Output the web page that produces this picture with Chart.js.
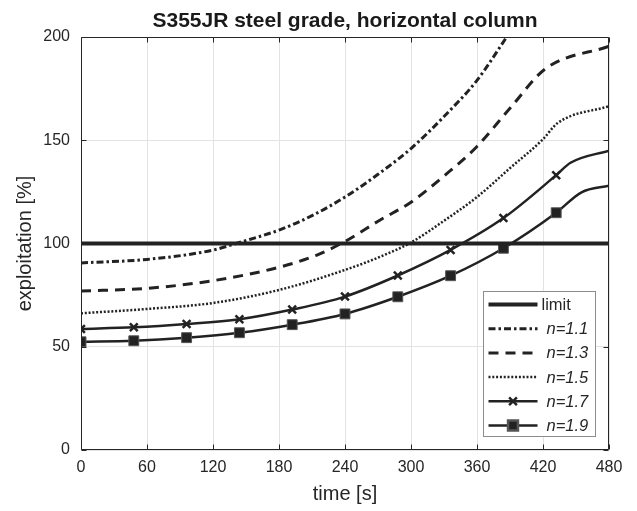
<!DOCTYPE html>
<html>
<head>
<meta charset="utf-8">
<title>S355JR steel grade, horizontal column</title>
<script src="https://cdn.jsdelivr.net/npm/chart.js@4.4.1/dist/chart.umd.min.js"></script>
<style>
  html, body { margin: 0; padding: 0; background: #fff; }
  #wrap { width: 637px; height: 511px; }
</style>
</head>
<body>
<div id="wrap"><canvas id="exploitChart" width="637" height="511"></canvas></div>
<script>
// axis ticks
const timeTicks = [0, 60, 120, 180, 240, 300, 360, 420, 480];
const exploitTicks = [0, 50, 100, 150, 200];

// exploitation [%] vs time [s]
const limitTime = [0, 480];
const limitVals = [100, 100];

const time11 = [0, 60, 120, 144, 180, 210, 240, 270, 300, 330, 360, 387];
const vals11 = [90.6, 92.3, 96.8, 100.5, 106.5, 113.5, 122.5, 133.5, 146.0, 161.5, 179.0, 200.0];

const time13 = [0, 60, 120, 180, 214, 240, 272, 300, 330, 360, 390, 422, 480];
const vals13 = [77.0, 78.3, 82.0, 88.5, 94.3, 101.0, 111.4, 120.0, 132.7, 147.0, 165.5, 184.5, 195.5];

const time15 = [0, 60, 120, 180, 240, 272, 300, 330, 360, 390, 420, 433, 480];
const vals15 = [66.2, 68.3, 71.2, 77.5, 87.2, 93.6, 100.5, 111.0, 122.5, 136.5, 150.5, 158.2, 166.5];

const time17 = [0, 48, 96, 144, 192, 240, 288, 336, 384, 432, 445, 480];
const vals17 = [58.6, 59.4, 61.0, 63.3, 68.0, 74.3, 84.5, 96.9, 112.3, 133.1, 139.1, 145.0];

const time19 = [0, 48, 96, 144, 192, 240, 288, 336, 384, 432, 455, 480];
const vals19 = [52.4, 52.9, 54.4, 56.8, 60.7, 65.9, 74.2, 84.4, 97.7, 114.9, 124.8, 128.0];

const ink = '#222222';
const textInk = '#262626';
const fontFamily = '"Liberation Sans", Arial, Helvetica, sans-serif';
const chartTitle = 'S355JR steel grade, horizontal column';

function toPoints(xs, ys) {
  return xs.map((x, i) => ({ x: x, y: ys[i] }));
}

// markers only on the sampled points, not on the kink / end point
function markerSizes(xs, r) {
  return xs.map((t, i) => (i < 10 ? r : 0));
}

// title centred over the axes (not the whole canvas)
const axesTitle = {
  id: 'axesTitle',
  afterDraw(chart) {
    const ctx = chart.ctx;
    const a = chart.chartArea;
    ctx.save();
    ctx.font = 'bold 21px ' + fontFamily;
    ctx.fillStyle = '#1a1a1a';
    ctx.textAlign = 'center';
    ctx.textBaseline = 'middle';
    ctx.fillText(chartTitle, (a.left + a.right) / 2, 21);
    ctx.restore();
  }
};

// MATLAB style box with inward ticks
const axesBox = {
  id: 'axesBox',
  afterDatasetsDraw(chart) {
    const ctx = chart.ctx;
    const xs = chart.scales.x;
    const ys = chart.scales.y;
    const a = chart.chartArea;
    const L = Math.round(a.left) + 0.5, R = Math.round(a.right) - 0.5;
    const T = Math.round(a.top) + 0.5, B = Math.round(a.bottom) - 0.5;
    const tl = 5;
    ctx.save();
    ctx.strokeStyle = textInk;
    ctx.lineWidth = 1;
    ctx.setLineDash([]);
    ctx.beginPath();
    ctx.rect(L, T, R - L, B - T);
    timeTicks.forEach(v => {
      const px = Math.round(xs.getPixelForValue(v)) + 0.5;
      ctx.moveTo(px, B); ctx.lineTo(px, B - tl);
      ctx.moveTo(px, T); ctx.lineTo(px, T + tl);
    });
    exploitTicks.forEach(v => {
      const py = Math.round(ys.getPixelForValue(v)) + 0.5;
      ctx.moveTo(L, py); ctx.lineTo(L + tl, py);
      ctx.moveTo(R, py); ctx.lineTo(R - tl, py);
    });
    ctx.stroke();
    ctx.restore();
  }
};

// legend box inside the lower right corner of the axes
const boxLegend = {
  id: 'boxLegend',
  afterDraw(chart) {
    const ctx = chart.ctx;
    const a = chart.chartArea;
    const w = 112, h = 145;
    const x0 = Math.round(a.right - 14 - w) + 0.5;
    const y0 = Math.round(a.bottom - 14 - h) + 0.5;
    ctx.save();
    ctx.fillStyle = '#ffffff';
    ctx.strokeStyle = '#8c8c8c';
    ctx.lineWidth = 1;
    ctx.setLineDash([]);
    ctx.fillRect(x0, y0, w, h);
    ctx.strokeRect(x0, y0, w, h);

    chart.data.datasets.forEach((ds, i) => {
      const y = y0 + 13 + i * 24.2;
      const lx1 = x0 + 5, lx2 = x0 + 54;
      ctx.strokeStyle = ds.borderColor;
      ctx.lineWidth = ds.borderWidth;
      ctx.lineCap = 'butt';
      ctx.setLineDash(ds.borderDash || []);
      ctx.beginPath();
      ctx.moveTo(lx1, y);
      ctx.lineTo(lx2, y);
      ctx.stroke();
      ctx.setLineDash([]);
      if (ds.legendMarker) {
        ctx.fillStyle = ds.pointBackgroundColor;
        ctx.strokeStyle = ds.pointBorderColor;
        Chart.helpers.drawPoint(ctx, {
          pointStyle: ds.pointStyle,
          radius: ds.legendMarker,
          borderWidth: ds.pointBorderWidth,
          rotation: 0
        }, (lx1 + lx2) / 2, y);
      }
      const italic = ds.label !== 'limit';
      ctx.font = (italic ? 'italic ' : '') + '16.5px ' + fontFamily;
      ctx.fillStyle = textInk;
      ctx.textBaseline = 'middle';
      ctx.textAlign = 'left';
      ctx.fillText(ds.label, italic ? x0 + 63 : x0 + 58, y + 1);
    });
    ctx.restore();
  }
};

const ctx = document.getElementById('exploitChart').getContext('2d');

new Chart(ctx, {
  type: 'line',
  data: {
    datasets: [
      {
        label: 'limit',
        data: toPoints(limitTime, limitVals),
        borderColor: ink,
        borderWidth: 4,
        pointRadius: 0
      },
      {
        label: 'n=1.1',
        data: toPoints(time11, vals11),
        borderColor: ink,
        borderWidth: 3,
        borderDash: [7, 3, 2.5, 3],
        pointRadius: 0
      },
      {
        label: 'n=1.3',
        data: toPoints(time13, vals13),
        borderColor: ink,
        borderWidth: 3,
        borderDash: [10, 7],
        pointRadius: 0
      },
      {
        label: 'n=1.5',
        data: toPoints(time15, vals15),
        borderColor: ink,
        borderWidth: 2.5,
        borderDash: [2, 1.8],
        pointRadius: 0
      },
      {
        label: 'n=1.7',
        data: toPoints(time17, vals17),
        borderColor: ink,
        borderWidth: 2.5,
        pointStyle: 'crossRot',
        pointRadius: markerSizes(time17, 5.5),
        pointBorderWidth: 2.5,
        pointBorderColor: ink,
        pointBackgroundColor: ink,
        legendMarker: 5.5
      },
      {
        label: 'n=1.9',
        data: toPoints(time19, vals19),
        borderColor: ink,
        borderWidth: 2.5,
        pointStyle: 'rect',
        pointRadius: markerSizes(time19, 7),
        pointBorderWidth: 1,
        pointBorderColor: '#555555',
        pointBackgroundColor: ink,
        legendMarker: 7
      }
    ]
  },
  options: {
    responsive: false,
    animation: false,
    events: [],
    cubicInterpolationMode: 'monotone',
    layout: {
      padding: { top: 37, right: 28, bottom: 0, left: 0 }
    },
    scales: {
      x: {
        type: 'linear',
        min: 0,
        max: 480,
        afterBuildTicks: s => { s.ticks = timeTicks.map(v => ({ value: v })); },
        afterFit: s => { s.height = 61; },
        grid: { color: '#e3e3e3', lineWidth: 1, drawTicks: false },
        border: { display: false },
        ticks: {
          color: textInk,
          padding: 8,
          maxRotation: 0,
          autoSkip: false,
          font: { family: fontFamily, size: 16 }
        },
        title: {
          display: true,
          text: 'time [s]',
          color: textInk,
          padding: { top: 0, bottom: 5 },
          font: { family: fontFamily, size: 20 }
        }
      },
      y: {
        type: 'linear',
        min: 0,
        max: 200,
        afterBuildTicks: s => { s.ticks = exploitTicks.map(v => ({ value: v })); },
        afterFit: s => { s.width = 81; },
        grid: { color: '#e3e3e3', lineWidth: 1, drawTicks: false },
        border: { display: false },
        ticks: {
          color: textInk,
          padding: 11,
          font: { family: fontFamily, size: 16 }
        },
        title: {
          display: true,
          text: 'exploitation [%]',
          color: textInk,
          padding: { top: 13, bottom: 0 },
          font: { family: fontFamily, size: 20 }
        }
      }
    },
    plugins: {
      legend: { display: false },
      tooltip: { enabled: false },
      title: { display: false }
    }
  },
  plugins: [axesTitle, axesBox, boxLegend]
});
</script>
</body>
</html>
